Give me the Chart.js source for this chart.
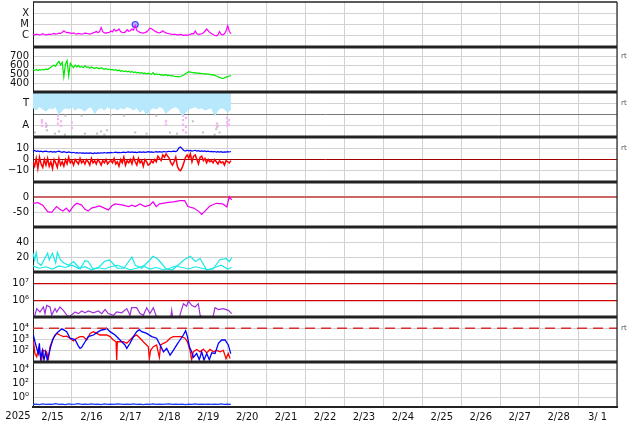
<!DOCTYPE html>
<html>
<head>
<meta charset="utf-8">
<title>Space weather summary</title>
<script src="https://cdn.jsdelivr.net/npm/chart.js@4.4.1/dist/chart.umd.min.js"></script>
<style>
  html, body { margin: 0; padding: 0; background: #fff; }
  #wrap { width: 634px; height: 424px; }
</style>
</head>
<body>
<div id="wrap"><canvas id="swChart" width="634" height="424"></canvas></div>
<script>
// time axis: hours since 2025-02-15 00:00 UT
const yearLabel = "2025";
const dayLabels = ["2/15", "2/16", "2/17", "2/18", "2/19", "2/20", "2/21", "2/22",
  "2/23", "2/24", "2/25", "2/26", "2/27", "2/28", "3/ 1"];

// panel 1: X-ray flux, hourly, in units of 1e-6 W/m2 (C1 = 1)
const xrayC = [
  1.3, 1.2, 1.4, 1.3, 1.2, 1.3, 1.5, 1.3, 1.2, 1.3,
  1.4, 1.3, 1.5, 1.6, 1.4, 1.5, 1.7, 1.6, 2.0, 2.8,
  2.2, 1.8, 2.0, 1.7, 1.6, 1.8, 1.5, 1.4, 1.6, 1.5,
  1.4, 1.5, 1.7, 1.6, 1.5, 1.4, 1.6, 1.8, 2.0, 2.4,
  1.9, 2.2, 5.5, 2.3, 1.8, 1.7, 1.9, 2.0, 2.6, 2.2,
  3.8, 2.6, 3.0, 4.0, 2.4, 2.0, 1.9, 2.2, 3.5, 2.5,
  2.8, 4.0, 3.2, 8.0, 3.0, 2.4, 2.0, 1.8, 1.7, 1.9,
  2.2, 3.0, 4.6, 4.2, 3.4, 2.6, 2.2, 1.9, 1.8, 2.1,
  2.8, 2.2, 1.8, 1.6, 1.5, 1.4, 1.3, 1.4, 1.3, 1.2,
  1.2, 1.3, 1.2, 1.1, 1.2, 1.1, 1.2, 1.3, 1.6, 1.4,
  2.6, 1.5, 1.3, 1.4, 1.5, 1.8, 2.5, 4.0, 2.8, 1.9,
  1.6, 1.3, 1.1, 1.0, 1.2, 2.4, 1.3, 1.2, 1.5, 2.6,
  8.0, 2.5, 1.5
];
const flareHours = [63];
const flareFlux = [1.0e-5];
const xrayTickVals = [1e-6, 1e-5, 1e-4];
const xrayTickText = ["C", "M", "X"];

// panel 2: solar wind speed (km/s), hourly
const windSpeed = [
  545, 540, 550, 538, 548, 542, 552, 545, 556, 550,
  560, 575, 590, 600, 585, 620, 640, 600, 630, 470,
  610, 650, 480, 620, 590, 570, 600, 580, 595, 575,
  585, 570, 590, 575, 580, 565, 578, 570, 560, 572,
  565, 558, 570, 560, 552, 562, 548, 555, 545, 550,
  540, 548, 535, 545, 530, 538, 528, 535, 525, 532,
  520, 528, 515, 522, 512, 518, 510, 515, 505, 512,
  500, 510, 502, 498, 515, 495, 500, 492, 498, 488,
  490, 485, 495, 480, 488, 478, 482, 475, 470, 472,
  468, 472, 480, 490, 505, 515, 525, 520, 518, 512,
  515, 508, 512, 505, 508, 500, 503, 498, 500, 495,
  490, 492, 485, 478, 470, 462, 455, 448, 458, 465,
  470, 478, 482
];
const speedTicks = [400, 500, 600, 700];

// panel 3: data source flags (T / A), lower edge of the T band every 2 h
const bandLow = [
  2.6, 2.4, 2.7, 2.5, 2.3, 2.6, 2.5, 2.7, 2.0, 2.4,
  2.6, 2.5, 2.7, 2.4, 2.6, 2.5, 2.3, 2.6, 2.7, 2.1,
  2.5, 2.6, 2.4, 2.7, 2.5, 2.6, 2.4, 2.6, 2.5, 2.7,
  2.6, 2.4, 2.6, 2.2, 2.5, 2.0, 2.4, 2.6, 2.5, 2.7,
  2.6, 2.1, 2.4, 2.6, 2.7, 2.5, 1.9, 2.2, 2.5, 2.6,
  2.7, 2.5, 2.6, 2.4, 2.5, 2.6, 1.9, 2.4, 2.6, 2.5,
  2.2, 2.5
];
const tLineHours = [0, 120];
const pinkHours = [5.5, 5.5, 5.5, 8, 8, 15.4, 15.4, 15.4, 17.3, 17.3, 24, 24, 82, 82,
  92.5, 92.5, 92.5, 92.5, 94.3, 94.3, 94.3, 113.4, 113.4, 119.6, 119.6, 119.6, 120.8, 120.8];
const pinkLevels = [1.3, 1.0, 1.5, 1.2, 0.9, 1.6, 1.2, 1.9, 1.4, 1.0, 0.8, 1.3, 1.4, 1.1,
  1.9, 1.5, 1.1, 0.6, 1.7, 0.9, 0.4, 0.9, 1.2, 1.7, 1.3, 1.0, 1.5, 1.1];
const grayHours = [1.2, 8.6, 8.6, 13.5, 16, 19.7, 32, 39.5, 42, 44, 45.6, 63, 70, 84.5, 88.8,
  98.6, 104.8, 112, 113, 114, 115, 20, 30, 48, 56, 76];
const grayLevels = [0.4, 0.6, 1.0, 0.3, 0.5, 0.2, 0.3, 0.3, 0.5, 0.2, 0.6, 0.4, 0.3, 0.4, 0.3,
  1.4, 0.4, 0.2, 0.7, 1.0, 0.4, 1.9, 1.9, 1.95, 1.9, 1.9];

// panel 4: IMF Bt and Bz (nT), hourly
const bt = [
  7.5, 8.0, 7.2, 7.6, 7.0, 7.4, 6.8, 7.2, 7.5, 7.0,
  6.8, 7.2, 6.5, 7.0, 6.6, 7.1, 7.4, 6.8, 6.4, 6.9,
  6.5, 6.2, 6.7, 6.3, 6.0, 6.4, 5.8, 6.1, 5.7, 6.0,
  5.6, 5.9, 5.5, 5.8, 5.4, 5.9, 5.6, 5.3, 5.8, 5.5,
  5.9, 5.6, 6.0, 5.7, 6.2, 5.8, 6.1, 5.9, 6.3, 6.0,
  6.2, 6.5, 6.1, 6.4, 6.0, 6.3, 6.6, 6.2, 6.5, 6.8,
  6.4, 6.7, 6.3, 6.6, 6.2, 6.5, 6.8, 6.4, 6.7, 6.3,
  6.6, 6.9, 6.5, 6.8, 6.4, 6.7, 7.0, 6.6, 6.9, 6.5,
  6.8, 7.1, 6.7, 7.0, 7.3, 6.9, 7.2, 7.5, 7.0, 8.0,
  10.5, 11.2, 9.5, 8.0, 7.5, 8.2, 7.6, 8.0, 7.4, 7.8,
  8.2, 7.5, 7.9, 7.3, 7.7, 7.2, 7.6, 7.0, 7.4, 6.9,
  7.2, 6.8, 7.1, 6.6, 7.0, 6.5, 6.9, 6.4, 6.8, 6.6,
  7.0, 6.7, 7.1
];
const bz = [
  -2, -6, 1, -8, 2, -4, -7, 0, -5, 1,
  -6, -2, -8, 0, -3, -7, 1, -5, -2, -6,
  0, -4, 2, -3, -1, -5, 0, -2, -4, 1,
  -3, -1, -4, 0, -2, -5, 1, -3, -1, -4,
  0, -2, -5, -1, -3, 0, -4, -2, -1, -3,
  1, -4, -2, -6, 0, -3, 2, -5, -1, -3,
  0, -4, 2, -2, -5, 1, -3, -1, -6, 0,
  -2, -5, -4, -1, -3, 0, -2, 3, 1, -1,
  4, 2, 5, 3, 1, -3, -5, -2, 2, -6,
  -9, -10, -7, -3, 2, 4, 1, 5, -2, 3,
  4, 0, -4, 2, 3, -1, 1, -3, 0, -2,
  -1, -3, 0, -2, -4, -1, -3, -2, -5, -1,
  -2, -3, -1
];
const imfTicks = [-10, 0, 10];

// panel 5: Dst index (nT)
const dstHours = [0, 3, 6, 9, 11.5, 14.5, 16.5, 18.5, 20.5, 22.5, 25, 27, 30, 32, 34, 36, 39, 41,
  44, 46.5, 48.5, 50.5, 55.5, 59, 61, 63, 66, 69, 72, 74, 76, 78, 82.5, 86.5, 90.5, 93.5, 95.5,
  99, 102, 104, 106, 109, 113, 117, 119.5, 121, 122.5];
const dst = [-21, -19, -27, -49, -51, -32, -41, -47, -37, -49, -30, -21, -27, -41, -47, -37, -33, -30,
  -37, -43, -30, -23, -27, -32, -27, -32, -23, -32, -27, -16, -32, -23, -19, -16, -12, -12, -32,
  -37, -47, -58, -47, -30, -21, -23, -33, 1, -10];
const dstTicks = [-50, 0];

// panel 6: two cyan traces
const cyanAHours = [0, 1, 2, 3, 5, 9, 10, 12, 14, 15, 17, 19, 22, 25, 27, 29, 32, 34, 37, 40, 44, 47,
  49, 52, 56, 61, 63, 67, 72, 74, 77, 79, 82, 86, 91, 93, 97, 100, 103, 107, 111, 115, 119, 121, 122.5];
const cyanA = [25, 16, 26, 12, 9, 25, 16, 25, 12, 26, 16, 12, 9, 14, 9, 4, 15, 14, 4, 5, 14, 16,
  12, 5, 5, 20, 9, 5, 16, 21, 17, 12, 4, 3, 12, 16, 21, 14, 18, 3, 4, 16, 18, 14, 19];
const cyanBHours = [0, 4, 8, 12, 16, 20, 24, 28, 32, 36, 40, 44, 48, 52, 56, 60, 64, 68, 72, 76, 80,
  84, 88, 92, 96, 100, 104, 108, 112, 116, 120, 122.5];
const cyanB = [8, 5, 7, 4, 8, 6, 9, 5, 7, 3, 6, 4, 7, 9, 6, 3, 5, 8, 4, 6, 3, 5, 8, 6, 4, 7, 5, 3, 6, 9, 4, 6];
const cyanTicks = [20, 40];

// panel 7: electron fluence, units of 1e5
const purpleHours = [0, 1.2, 2.3, 4.3, 6.4, 7.4, 8.4, 10.5, 11.5, 13.6,
  14.6, 16.6, 18.7, 20.8, 22, 24.9, 25.9, 28, 30, 32.1,
  34.1, 37.2, 40.3, 42.3, 44.4, 46.4, 49.5, 51.6, 54.7, 57.8,
  59.8, 60.8, 63.9, 66, 68, 70.1, 72.1, 74.2, 75.8, 77,
  85, 85.5, 86, 90, 90.6, 92.7, 94.7, 95.8, 97.8, 99.9,
  101.9, 103, 104, 111, 112.2, 114.3, 117.3, 120.4, 122.5];
const purple = [1.05, 1.3, 3.2, 2.0, 4.0, 1.6, 5.0, 4.0, 1.3, 3.2,
  2.0, 4.0, 2.5, 1.3, 1.05, 1.6, 2.0, 1.6, 2.3, 1.8,
  2.3, 1.8, 2.3, 1.6, 2.8, 1.6, 1.26, 2.0, 1.8, 3.2,
  1.26, 3.6, 3.6, 1.6, 1.26, 3.6, 1.6, 3.6, 1.26, 1.05,
  1.05, 2.5, 1.05, 1.05, 1.3, 6.3, 4.4, 9.1, 5.0, 4.0,
  6.3, 1.3, 1.05, 1.05, 3.6, 2.8, 3.2, 2.5, 1.6];
const fluenceTicks = [1e6, 1e7];

// panel 8: particle flux, blue and red traces
const peBlueHours = [0.2, 1.2, 2.3, 3.3, 3.9, 4.7, 5.8, 6.8, 7.8, 8.8,
  9.9, 10.9, 12.1, 13.6, 15.6, 17.7, 18.7, 20.8, 22.8, 25.9,
  28, 29, 30, 32.1, 34.1, 37.2, 40.3, 42.3, 44.4, 45.4,
  47.5, 50.6, 52.6, 54.7, 56.7, 57.8, 59.8, 61.9, 63.9, 65.6,
  67, 70.1, 73.2, 76.2, 78.3, 80.4, 82.4, 84.5, 86.5, 88.6,
  90.6, 92.7, 94.1, 95.2, 96.4, 97.8, 98.8, 100.9, 102.5, 104,
  105.4, 107.1, 108.7, 110.2, 112.2, 114.3, 116.3, 118.4, 120.4, 121.9];
const peBlue = [2500, 630, 160, 56, 460, 20, 110, 15, 80, 15,
  56, 230, 900, 2500, 5000, 8500, 7500, 5000, 1300, 1000,
  260, 160, 200, 630, 1800, 2500, 5000, 7000, 8000, 10000,
  5000, 2500, 1300, 630, 330, 160, 460, 1800, 5000, 7500,
  5000, 3500, 1800, 1300, 330, 80, 160, 40, 110, 330,
  900, 2500, 6000, 1800, 230, 80, 25, 56, 16, 80,
  15, 56, 16, 65, 56, 460, 900, 900, 330, 56];
const peRedHours = [0.2, 1.2, 2.3, 3.3, 4.3, 5.3, 6.4, 8.4, 9.5, 10.5,
  12.5, 14.6, 16.6, 18.7, 20.8, 22.8, 24.9, 26.9, 29, 31,
  33.1, 35.2, 37.2, 39.3, 41.3, 45.4, 47.5, 49.5, 51.2, 51.6,
  52, 53.6, 55.7, 57.8, 59.8, 61.9, 63.9, 66, 68, 71.1,
  71.7, 72.5, 74.2, 76.2, 77.9, 78.7, 80.4, 82.4, 84.5, 86.5,
  88.6, 91.7, 93.7, 95.2, 96.8, 97.8, 98.8, 100.9, 103, 105,
  107.1, 109.1, 111.2, 113.2, 115.3, 117.3, 119, 120.4, 121.5];
const peRed = [800, 56, 29, 160, 56, 15, 110, 80, 20, 230,
  1300, 3500, 2500, 1800, 2000, 1300, 750, 1300, 1800, 1800,
  900, 3500, 5000, 3500, 2500, 2500, 1800, 900, 630, 15,
  630, 630, 630, 460, 900, 1800, 2500, 1300, 630, 230,
  20, 110, 230, 330, 25, 330, 460, 630, 1300, 1800,
  1800, 1800, 1300, 630, 110, 16, 80, 130, 80, 140,
  65, 130, 80, 110, 80, 110, 20, 56, 20];
const fluxTicks = [1e2, 1e3, 1e4];
const fluxAlert = 1e4;

// panel 9: low-level flux, every 2 h
const lowFlux = [
  0.12, 0.13, 0.11, 0.14, 0.12, 0.13, 0.12, 0.15, 0.12, 0.13,
  0.11, 0.14, 0.12, 0.13, 0.15, 0.12, 0.13, 0.12, 0.14, 0.12,
  0.13, 0.11, 0.14, 0.12, 0.13, 0.12, 0.14, 0.13, 0.12, 0.13,
  0.12, 0.14, 0.12, 0.13, 0.11, 0.13, 0.12, 0.14, 0.12, 0.13,
  0.12, 0.13, 0.14, 0.12, 0.13, 0.12, 0.13, 0.11, 0.13, 0.12,
  0.14, 0.12, 0.13, 0.12, 0.13, 0.12, 0.13, 0.12, 0.14, 0.12,
  0.13, 0.12
];
const lowTicks = [1e0, 1e2, 1e4];

const pts = (xs, ys) => xs.map((x, i) => ({ x, y: ys[i] }));
const every = (step, ys, scale = 1) => ys.map((y, i) => ({ x: i * step, y: y * scale }));

Chart.defaults.font.family = "DejaVu Sans";

const GRID = "#d2d2d2";
function panelAxis(type, min, max, tickVals, tickText, lineColor, lineWidth) {
  return {
    type, min, max,
    position: "left", stack: "panels", stackWeight: 1, bounds: "data", offset: false,
    border: { display: true, color: "#222", width: 1 },
    grid: {
      drawTicks: false,
      color: c => (lineColor && c.tick && lineColor(c.tick.value)) || GRID,
      lineWidth: c => (lineWidth && c.tick && lineWidth(c.tick.value)) || 1
    },
    ticks: {
      padding: 4, color: "#111", autoSkip: false, font: { size: 10 },
      callback: (v, i) => tickText[i]
    },
    afterBuildTicks: s => { s.ticks = tickVals.map(v => ({ value: v })); },
    afterFit: s => { s.width = 33; s.paddingTop = 0; s.paddingBottom = 0; }
  };
}

const line = (label, data, axis, color, extra) => Object.assign({
  label, data, yAxisID: axis, borderColor: color, backgroundColor: color,
  borderWidth: 1.2, pointRadius: 0, tension: 0, fill: false
}, extra || {});

const datasets = [
  line("X-ray", every(1, xrayC, 1e-6), "y1", "#ff00ff"),
  line("M flare", pts(flareHours, flareFlux), "y1", "#3344ff", {
    showLine: false, pointRadius: 3, pointBorderWidth: 1.2,
    pointBackgroundColor: "rgba(150,120,255,0.55)", pointBorderColor: "#3344ff"
  }),
  line("Speed", every(1, windSpeed), "y2", "#00e800"),
  line("T band", every(2, bandLow), "y3", "#b4e6fa", {
    borderWidth: 1, fill: { value: 3.97 }, backgroundColor: "#b8e8fb"
  }),
  line("T", pts(tLineHours, [3, 3]), "y3", "#6a88f0", { borderWidth: 2 }),
  line("gray", pts(grayHours, grayLevels), "y3", "#c6c6c6", {
    showLine: false, pointRadius: 1.5, pointStyle: "rect", pointBorderWidth: 0
  }),
  line("pink", pts(pinkHours, pinkLevels), "y3", "#f2b4f2", {
    showLine: false, pointRadius: 1.6, pointStyle: "rect", pointBorderWidth: 0
  }),
  line("Bt", every(1, bt), "y4", "#0000ff"),
  line("Bz", every(1, bz), "y4", "#ff0000", { borderWidth: 1.5 }),
  line("Dst", pts(dstHours, dst), "y5", "#ee00ee"),
  line("cyan B", pts(cyanBHours, cyanB), "y6", "#18e8e8"),
  line("cyan A", pts(cyanAHours, cyanA), "y6", "#18e8e8"),
  line("fluence", pts(purpleHours, purple.map(v => v * 1e5)), "y7", "#a030d8"),
  line("alert", pts([0, 360], [fluxAlert, fluxAlert]), "y8", "#d83030", {
    borderWidth: 1.5, borderDash: [10, 6]
  }),
  line("flux blue", pts(peBlueHours, peBlue), "y8", "#0000ff", { borderWidth: 1.3 }),
  line("flux red", pts(peRedHours, peRed), "y8", "#ff0000", { borderWidth: 1.3 }),
  line("low flux", every(2, lowFlux), "y9", "#1a3cff", { borderWidth: 1.3 })
];

const frame = {
  id: "frame",
  afterDraw(chart) {
    const { ctx, chartArea: a, scales } = chart;
    ctx.save();
    ctx.strokeStyle = "#222";
    ["y1", "y2", "y3", "y4", "y5", "y6", "y7", "y8", "y9"].forEach((id, i) => {
      const y = Math.round(scales[id].top);
      ctx.lineWidth = i === 0 ? 1.5 : 3;
      ctx.beginPath(); ctx.moveTo(a.left, y); ctx.lineTo(a.right, y); ctx.stroke();
    });
    ctx.lineWidth = 2;
    ctx.beginPath(); ctx.moveTo(a.left, a.bottom); ctx.lineTo(a.right + 1, a.bottom); ctx.stroke();
    ctx.lineWidth = 1.2;
    ctx.beginPath(); ctx.moveTo(a.right, a.top); ctx.lineTo(a.right, a.bottom); ctx.stroke();

    ctx.fillStyle = "#555";
    ctx.font = "7px 'DejaVu Sans'";
    ctx.textBaseline = "middle";
    [["y2", 700], ["y3", 3], ["y4", 10], ["y8", 1e4]].forEach(([id, v]) => {
      ctx.fillText("rt", a.right + 4, scales[id].getPixelForValue(v));
    });
    ctx.fillStyle = "#111";
    ctx.font = "10px 'DejaVu Sans'";
    ctx.textAlign = "center";
    ctx.fillText(yearLabel, 18, scales.x.bottom - 8);
    ctx.restore();
  }
};

new Chart(document.getElementById("swChart"), {
  type: "line",
  data: { datasets },
  plugins: [frame],
  options: {
    responsive: false,
    animation: false,
    devicePixelRatio: 1,
    layout: { autoPadding: false, padding: { top: 2, right: 17, left: 0, bottom: 0 } },
    plugins: { legend: { display: false }, tooltip: { enabled: false } },
    scales: {
      x: {
        type: "linear", min: 0, max: 360, position: "bottom",
        border: { display: true, color: "#222", width: 2 },
        grid: { color: GRID, drawTicks: false },
        ticks: {
          color: "#111", padding: 4, autoSkip: false, maxRotation: 0, labelOffset: 19.5,
          font: { size: 10 },
          callback: (v, i) => dayLabels[i] || ""
        },
        afterBuildTicks: s => { s.ticks = dayLabels.concat([""]).map((_, i) => ({ value: i * 24 })); },
        afterFit: s => { s.height = 17; s.paddingLeft = 0; s.paddingRight = 0; }
      },
      y9: panelAxis("logarithmic", 0.05, 1e5, lowTicks, ["10\u2070", "10\u00b2", "10\u2074"]),
      y8: panelAxis("logarithmic", 10, 1e5, fluxTicks, ["10\u00b2", "10\u00b3", "10\u2074"]),
      y7: panelAxis("logarithmic", 1e5, 5e7, fluenceTicks, ["10\u2076", "10\u2077"],
        () => "#cc0000", () => 1.3),
      y6: panelAxis("linear", 0, 60, cyanTicks, ["20", "40"]),
      y5: panelAxis("linear", -100, 50, dstTicks, ["-50", "0"],
        v => v === 0 ? "#cc6666" : null, v => v === 0 ? 2 : 1),
      y4: panelAxis("linear", -20, 20, imfTicks, ["\u221210", "0", "10"],
        v => v === 0 ? "#a00000" : null),
      y3: panelAxis("linear", 0, 4, [1, 2, 3], ["A", "", "T"],
        v => v === 2 ? "#777" : null),
      y2: panelAxis("linear", 300, 800, speedTicks, ["400", "500", "600", "700"]),
      y1: panelAxis("logarithmic", 1e-7, 1e-3, xrayTickVals, xrayTickText)
    }
  }
});
</script>
</body>
</html>
